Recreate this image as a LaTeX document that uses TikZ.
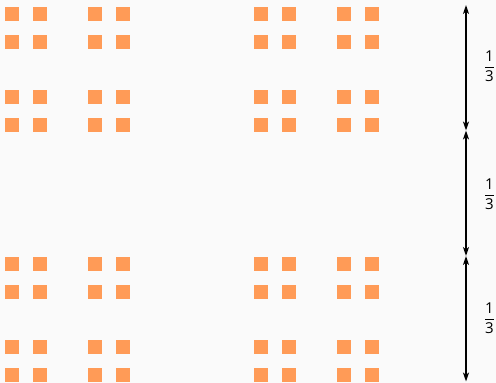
\documentclass[tikz,border=0pt]{standalone}
\usepackage{amsmath}
\usepackage{fontspec}
\setmainfont{Open Sans}
\usetikzlibrary{arrows.meta}
\definecolor{bgcol}{HTML}{FAFAFA}
\definecolor{dustcol}{HTML}{FF9B57}
\tikzset{
  dust/.style={fill=dustcol, draw=none},
  measure/.style={line width=1.5pt, {Stealth[length=9pt,width=6pt,inset=2.5pt]}-{Stealth[length=9pt,width=6pt,inset=2.5pt]}},
  frac/.style={font=\fontsize{15}{18}\selectfont, inner sep=0pt}
}
\begin{document}
\begin{tikzpicture}[x=1pt,y=-1pt]
\useasboundingbox (0,0) rectangle (496,383);
\fill[bgcol] (0,0) rectangle (496,383);
\pgfmathsetmacro{\ux}{374/27}
\pgfmathsetmacro{\uy}{375/27}
\foreach \i in {0,2,6,8,18,20,24,26}{
  \foreach \j in {0,2,6,8,18,20,24,26}{
    \fill[dust] ({5+\i*\ux},{7+\j*\uy}) rectangle ++(\ux,\uy);
  }
}
\coordinate (a0) at (466,5);
\coordinate (a1) at (466,130.5);
\coordinate (a2) at (466,256);
\coordinate (a3) at (466,381.5);
\draw[measure] (a0) -- (a1);
\draw[measure] (a1) -- (a2);
\draw[measure] (a2) -- (a3);
\node[frac] (l1) at (489.5,66) {$\dfrac{\text{1}}{\text{3}}$};
\node[frac] (l2) at (489.5,194) {$\dfrac{\text{1}}{\text{3}}$};
\node[frac] (l3) at (489.5,318) {$\dfrac{\text{1}}{\text{3}}$};
\end{tikzpicture}
\end{document}
